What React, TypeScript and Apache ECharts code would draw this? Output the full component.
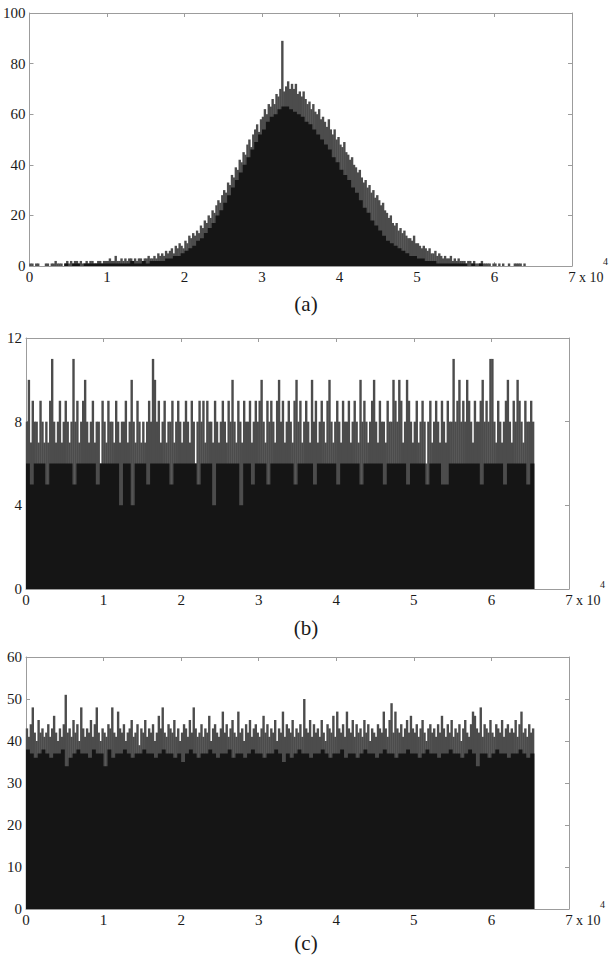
import React, { useEffect, useRef } from 'react';
import * as echarts from 'echarts';

// ---------- data ----------
const xTickLabels = ['0', '1', '2', '3', '4', '5', '6', '7'];
const xMultiplier = 'x 10';
const xExponent = '4';
const panelTitles = ['(a)', '(b)', '(c)'];
const yRanges = [
  { max: 100, step: 20 },
  { max: 12, step: 4 },
  { max: 60, step: 10 },
];
const CORE_BIN = 500; // width of a core bin (x units)
const PEAK_BIN = 250; // width of a peak bin (x units)
const aEnd = 64000;
const bEnd = 65536;
const cEnd = 65536;

// (a) solid level per 500-wide bin, 0 .. 64000
const aCore = [
  0, 0, 0, 0, 0, 0, 0, 0, 0,
  1, 0, 1, 1, 0, 1, 1, 1, 1,
  1, 1, 1, 1, 1, 1,
  1, 1, 2, 1, 1, 2,
  1, 2, 2, 2,
  2, 3, 3, 4,
  4, 5, 6, 7,
  8, 10, 11, 13,
  15, 17, 20, 22,
  25, 28, 31, 34,
  37, 40, 43, 46,
  49, 52, 54, 57,
  59, 60, 62, 63,
  63, 62, 61, 60,
  59, 57, 56, 54,
  52, 50, 48, 46,
  43, 41, 38, 36,
  34, 31, 29, 26,
  23, 21, 18, 16,
  14, 12, 10, 9,
  8, 7, 6, 5,
  4, 4, 3, 3,
  2, 2, 2, 1,
  1, 1, 1, 1,
  1, 1, 1, 0,
  1, 0, 1, 0,
  0, 0, 0, 0, 0, 0, 0, 0, 0, 0,
];
// (a) highest count per 250-wide bin
const aPeak = [
  1, 1, 0, 1, 1, 0, 0, 0, 1, 1, 0, 1, 1, 2, 1, 1,
  1, 0, 1, 2, 1, 2, 1, 2, 2, 1, 2, 1, 1, 2, 1, 2,
  2, 1, 1, 2, 2, 1, 2, 2, 2, 3, 2, 2, 4, 2, 2, 3,
  2, 3, 2, 3, 3, 2, 3, 2, 3, 3, 2, 3, 3, 4, 3, 3,
  4, 3, 5, 4, 5, 4, 6, 5, 6, 7, 5, 8, 7, 9, 8, 7,
  10, 9, 12, 11, 13, 12, 14, 13, 16, 15, 18, 17, 20, 19, 22, 21,
  24, 26, 25, 28, 30, 29, 33, 32, 36, 35, 39, 38, 42, 41, 45, 44,
  48, 50, 47, 52, 54, 56, 53, 58, 59, 62, 60, 64, 63, 66, 64, 68,
  67, 70, 89, 69, 71, 73, 70, 72, 70, 72, 68, 69, 67, 69, 66, 64,
  65, 62, 64, 61, 60, 62, 58, 59, 57, 55, 58, 54, 52, 54, 50, 51,
  48, 47, 49, 45, 44, 42, 43, 40, 39, 37, 38, 35, 33, 34, 31, 32,
  29, 30, 27, 28, 26, 24, 25, 22, 21, 19, 20, 17, 16, 17, 14, 15,
  13, 14, 12, 11, 11, 10, 12, 9, 9, 8, 7, 8, 7, 6, 7, 5,
  5, 6, 4, 5, 4, 3, 4, 3, 3, 4, 2, 3, 2, 3, 2, 2,
  2, 1, 2, 2, 1, 2, 1, 1, 1, 2, 1, 1, 1, 1, 0, 1,
  1, 0, 1, 0, 1, 0, 0, 1, 0, 0, 1, 1, 1, 1, 0, 1,
];

// (b) solid level per 500-wide bin, 0 .. 65536
const bCore = [
  6, 5, 6, 6, 6, 5, 6, 6, 6, 6,
  6, 6, 5, 6, 6, 6, 6, 6, 5, 6,
  6, 6, 6, 6, 4, 6, 6, 4, 6, 6,
  6, 5, 6, 6, 6, 6, 6, 5, 6, 6,
  6, 6, 6, 6, 5, 6, 6, 6, 4, 6,
  6, 6, 6, 6, 6, 4, 6, 6, 5, 6,
  6, 6, 5, 6, 6, 6, 6, 6, 6, 5,
  6, 6, 6, 6, 5, 6, 6, 6, 6, 6,
  5, 6, 6, 6, 6, 6, 5, 6, 6, 6,
  6, 6, 5, 6, 6, 6, 6, 6, 5, 6,
  6, 6, 6, 5, 6, 6, 6, 5, 5, 6,
  6, 6, 6, 6, 6, 6, 6, 5, 6, 6,
  6, 6, 6, 5, 6, 6, 6, 6, 6, 5, 6,
];
// (b) highest count per 250-wide bin
const bPeak = [
  8, 10, 7, 9, 8, 8, 7, 9, 8, 7,
  8, 7, 9, 11, 8, 7, 8, 9, 7, 8,
  9, 8, 7, 8, 11, 8, 9, 7, 8, 9,
  10, 8, 7, 8, 9, 7, 8, 8, 6, 9,
  8, 7, 9, 8, 8, 7, 9, 8, 7, 8,
  8, 9, 7, 8, 10, 8, 7, 9, 8, 7,
  8, 7, 8, 9, 8, 11, 10, 8, 9, 7,
  8, 9, 7, 8, 8, 9, 7, 8, 9, 8,
  7, 8, 9, 8, 7, 9, 8, 6, 8, 9,
  8, 9, 7, 9, 8, 8, 7, 9, 8, 7,
  8, 9, 8, 7, 9, 8, 10, 8, 7, 9,
  8, 7, 9, 8, 8, 9, 7, 8, 9, 8,
  9, 10, 8, 7, 9, 8, 9, 8, 7, 9,
  10, 8, 9, 7, 8, 9, 8, 7, 9, 10,
  8, 9, 7, 8, 9, 8, 7, 10, 8, 9,
  7, 8, 9, 8, 7, 9, 10, 8, 7, 8,
  9, 8, 7, 9, 8, 8, 9, 7, 8, 9,
  8, 7, 10, 8, 9, 8, 7, 8, 9, 10,
  8, 7, 9, 8, 8, 7, 9, 8, 8, 10,
  9, 8, 10, 9, 7, 8, 10, 9, 8, 7,
  8, 9, 7, 8, 9, 8, 6, 8, 9, 7,
  8, 9, 8, 7, 9, 8, 7, 9, 8, 8,
  11, 8, 9, 10, 8, 9, 8, 10, 9, 8,
  7, 9, 8, 8, 9, 10, 8, 9, 8, 11,
  11, 8, 7, 9, 8, 7, 8, 9, 10, 8,
  7, 9, 8, 10, 9, 8, 7, 9, 8, 8,
  9, 8,
];

// (c) solid level per 500-wide bin, 0 .. 65536
const cCore = [
  38, 37, 36, 37, 38, 37, 36, 37, 37, 38,
  34, 36, 37, 38, 37, 37, 36, 38, 37, 37,
  34, 38, 36, 37, 37, 38, 37, 36, 37, 37,
  38, 37, 37, 36, 37, 38, 37, 37, 36, 37,
  35, 37, 38, 37, 36, 37, 37, 38, 37, 36,
  37, 37, 38, 36, 37, 37, 36, 37, 38, 37,
  37, 36, 37, 37, 38, 37, 35, 37, 36, 37,
  38, 37, 37, 36, 37, 37, 38, 37, 36, 37,
  37, 38, 36, 37, 37, 36, 37, 38, 37, 37,
  36, 37, 38, 37, 37, 36, 37, 37, 38, 37,
  37, 36, 37, 38, 37, 37, 36, 37, 37, 38,
  37, 37, 36, 37, 38, 37, 34, 37, 37, 36,
  37, 38, 37, 37, 36, 37, 37, 38, 37, 36, 37,
];
// (c) highest count per 250-wide bin
const cPeak = [
  43, 41, 44, 48, 42, 40, 45, 42, 43, 41,
  42, 44, 41, 43, 46, 42, 40, 43, 41, 44,
  51, 42, 43, 41, 45, 42, 44, 40, 48, 43,
  41, 43, 42, 45, 41, 44, 48, 42, 40, 43,
  42, 41, 44, 43, 48, 42, 41, 47, 43, 42,
  44, 40, 42, 43, 45, 41, 42, 44, 39, 43,
  42, 45, 41, 43, 42, 44, 40, 42, 46, 43,
  48, 42, 41, 44, 43, 42, 45, 41, 43, 40,
  42, 44, 43, 41, 45, 42, 48, 43, 41, 42,
  44, 41, 43, 42, 46, 40, 43, 44, 42, 41,
  43, 47, 42, 44, 41, 43, 45, 42, 41, 47,
  42, 43, 40, 44, 42, 45, 41, 43, 44, 42,
  41, 43, 46, 42, 44, 41, 43, 42, 45, 40,
  43, 42, 47, 41, 44, 43, 42, 45, 41, 43,
  42, 44, 41, 50, 43, 42, 45, 41, 44, 42,
  43, 41, 45, 42, 40, 44, 43, 42, 46, 41,
  47, 43, 42, 44, 41, 47, 43, 42, 45, 41,
  44, 42, 43, 41, 45, 42, 44, 40, 43, 42,
  41, 44, 43, 42, 47, 43, 41, 45, 49, 42,
  47, 43, 42, 44, 41, 43, 45, 42, 46, 43,
  42, 44, 41, 43, 45, 42, 40, 43, 44, 42,
  43, 41, 44, 42, 46, 43, 41, 44, 42, 45,
  41, 43, 42, 44, 40, 43, 45, 42, 41, 44,
  47, 46, 43, 42, 48, 41, 44, 43, 42, 45,
  42, 41, 44, 43, 42, 45, 41, 43, 44, 42,
  43, 42, 45, 41, 44, 47, 42, 43, 41, 44,
  42, 43,
];

// ---------- layout / style ----------
const FONT = "'Liberation Serif', 'Times New Roman', serif";
const AXIS = '#9c9c9c';
const INK = '#151515';
const SPIKE = '#4c4c4c';
const TEXT = '#1a1a1a';
const grids = [
  { left: 29, top: 13, width: 543, height: 253 },
  { left: 26, top: 338, width: 543, height: 251 },
  { left: 26, top: 657, width: 543, height: 252 },
];
const titleY = [304, 628, 943];

function coreData(core: number[], end: number) {
  const d: number[][] = core.map((v, i) => [i * CORE_BIN, v]);
  d.push([end, core[core.length - 1]]);
  return d;
}
function peakData(peak: number[]) {
  return peak.map((v, i) => [i * PEAK_BIN + PEAK_BIN / 2, v]);
}

export default function App() {
  const ref = useRef<HTMLDivElement>(null);
  useEffect(() => {
    document.body.style.margin = '0';
    const chart = echarts.init(ref.current!, undefined, { renderer: 'svg' });
    const panels = [
      { core: coreData(aCore, aEnd), peak: peakData(aPeak) },
      { core: coreData(bCore, bEnd), peak: peakData(bPeak) },
      { core: coreData(cCore, cEnd), peak: peakData(cPeak) },
    ];
    const xAxis: any[] = [];
    const yAxis: any[] = [];
    const series: any[] = [];
    const graphic: any[] = [];
    grids.forEach((g, p) => {
      const xBase = {
        gridIndex: p,
        type: 'value',
        min: 0,
        max: 70000,
        interval: 10000,
        splitLine: { show: false },
        axisLine: { show: true, onZero: false, lineStyle: { color: AXIS, width: 1 } },
        axisTick: { show: true, inside: true, length: 4, lineStyle: { color: AXIS } },
      };
      xAxis.push({
        ...xBase,
        position: 'bottom',
        axisLabel: {
          show: true,
          margin: 3,
          color: TEXT,
          fontFamily: FONT,
          fontSize: 15,
          formatter: (v: number) => xTickLabels[Math.round(v / 10000)] ?? '',
        },
      });
      xAxis.push({ ...xBase, position: 'top', axisLabel: { show: false } });
      const yBase = {
        gridIndex: p,
        type: 'value',
        min: 0,
        max: yRanges[p].max,
        interval: yRanges[p].step,
        splitLine: { show: false },
        axisLine: { show: true, onZero: false, lineStyle: { color: AXIS, width: 1 } },
        axisTick: { show: true, inside: true, length: 4, lineStyle: { color: AXIS } },
      };
      yAxis.push({
        ...yBase,
        position: 'left',
        axisLabel: { show: true, margin: 4, color: TEXT, fontFamily: FONT, fontSize: 15 },
      });
      yAxis.push({ ...yBase, position: 'right', axisLabel: { show: false } });

      series.push({
        type: 'bar',
        xAxisIndex: p * 2,
        yAxisIndex: p * 2,
        data: panels[p].peak,
        barWidth: 2.4,
        itemStyle: { color: SPIKE },
        silent: true,
        z: 2,
      });
      series.push({
        type: 'line',
        xAxisIndex: p * 2,
        yAxisIndex: p * 2,
        data: panels[p].core,
        step: 'end',
        symbol: 'none',
        showSymbol: false,
        lineStyle: { width: 0, color: INK },
        areaStyle: { color: INK, opacity: 1 },
        silent: true,
        z: 3,
      });

      const baseY = g.top + g.height;
      const right = g.left + g.width;
      // " x 10^4" multiplier after the last tick label
      graphic.push({
        type: 'text',
        x: right + 7,
        y: baseY + 11,
        style: { text: xMultiplier, fill: TEXT, font: `14px ${FONT}`, align: 'left', verticalAlign: 'middle' },
      });
      graphic.push({
        type: 'text',
        x: right + 31,
        y: baseY - 5,
        style: { text: xExponent, fill: TEXT, font: `10px ${FONT}`, align: 'left', verticalAlign: 'middle' },
      });
      graphic.push({
        type: 'text',
        x: 306,
        y: titleY[p],
        style: { text: panelTitles[p], fill: TEXT, font: `21px ${FONT}`, align: 'center', verticalAlign: 'middle' },
      });
    });

    chart.setOption({
      animation: false,
      backgroundColor: '#ffffff',
      grid: grids.map((g) => ({ ...g, show: false })),
      xAxis,
      yAxis,
      series,
      graphic,
    });
    return () => chart.dispose();
  }, []);
  return <div ref={ref} style={{ width: 612, height: 958 }} />;
}
